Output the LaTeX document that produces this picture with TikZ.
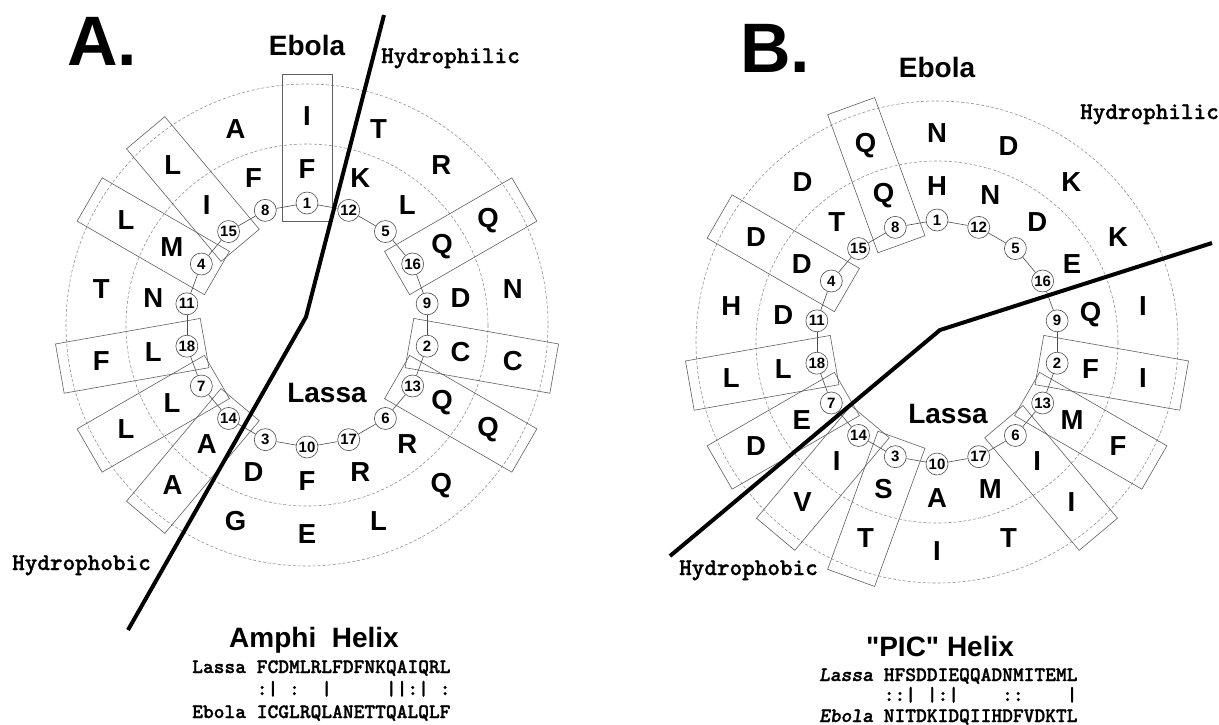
\documentclass[tikz,border=0pt]{standalone}
\usepackage{fontspec}
\setmainfont{Liberation Sans}[Ligatures=TeXOff]
\newfontfamily\monob{lmmonolt10-bold}[Extension=.otf, ItalicFont=lmmonolt10-boldoblique, FakeBold=1.2]
\usetikzlibrary{calc}
\newcommand\gapc{\hphantom{:}}
\newcommand\drawwheel[3]{%
  \draw[dashring] (0,0) circle[radius=181];
  \draw[dashring] (0,0) circle[radius=241];
  \foreach \pp in {#3} {%
    \pgfmathsetmacro\vang{90-(\pp-1)*100}%
    \pgfmathsetmacro\tang{(\pp-1)*100-90}%
    \node[resbox, rotate=\vang] (#1box\pp) at (\tang:177.5) {};
  }
  \foreach \pp/\rL/\rE in {#2} {%
    \pgfmathsetmacro\tang{(\pp-1)*100-90}%
    \node[poscirc] (#1\pp) at (\tang:122) {\pp};
    \node[res] (#1L\pp) at (\tang:156) {\rL};
    \node[res] (#1E\pp) at (\tang:209) {\rE};
  }
  \foreach \pa/\pb in {1/12,12/5,5/16,16/9,9/2,2/13,13/6,6/17,17/10,10/3,3/14,14/7,7/18,18/11,11/4,4/15,15/8,8/1}
    \draw[link] (#1\pa) -- (#1\pb);
}
\begin{document}
\begin{tikzpicture}[x=1pt,y=-1pt,
  dashring/.style={draw=gray!85, dash pattern=on 3pt off 2pt, line width=0.6pt},
  resbox/.style={draw=gray!75!black, line width=0.6pt, minimum width=147pt, minimum height=50pt, inner sep=0pt},
  poscirc/.style={circle, draw=gray!60!black, fill=white, line width=0.6pt, minimum size=22pt, inner sep=0pt, font=\bfseries\fontsize{15}{15}\selectfont},
  link/.style={draw=gray!60!black, line width=0.6pt},
  res/.style={font=\bfseries\fontsize{27.5}{27.5}\selectfont, inner sep=0pt},
  lab/.style={font=\bfseries\fontsize{28}{28}\selectfont, inner sep=0pt},
  big/.style={font=\bfseries\fontsize{70}{70}\selectfont, inner sep=0pt},
  phil/.style={font=\monob\fontsize{24}{24}\selectfont, inner sep=0pt},
  seq/.style={font=\monob\fontsize{20.5}{20.5}\selectfont, inner sep=0pt},
  divider/.style={line width=4pt, draw=black}]
\fill[white] (0,0) rectangle (1219,724);
\useasboundingbox (0,0) rectangle (1219,724);

% ---------- Panel A ----------
\begin{scope}[shift={(307,325)}]
\drawwheel{A}{1/F/I, 2/C/C, 3/D/G, 4/M/L, 5/L/R, 6/R/Q, 7/L/L, 8/F/A, 9/D/N, 10/F/E, 11/N/T, 12/K/T, 13/Q/Q, 14/A/A, 15/I/L, 16/Q/Q, 17/R/L, 18/L/F}{1,2,4,7,13,14,15,16,18}
\end{scope}
\node[big, anchor=base west] (Atitle) at (67,65) {A.};
\node[lab, anchor=base] (Aebola) at (307,55) {Ebola};
\node[lab, anchor=base] (Alassa) at (327,402) {Lassa};
\node[phil, anchor=base west] (Aphil) at (381,63) {Hydrophilic};
\node[phil, anchor=base west] (Aphob) at (12,570) {Hydrophobic};
\coordinate (Atop) at (384,15);
\coordinate (Abend) at (306,317);
\coordinate (Abot) at (128,630);
\draw[divider] (Atop) -- (Abend) -- (Abot);
\node[lab, anchor=base] (Ahelix) at (314,647) {Amphi\ \ Helix};
\node[seq, anchor=base west] (Aseq1) at (192,673) {Lassa\gapc FCDMLRLFDFNKQAIQRL};
\node[seq, anchor=base west] (Amark) at (192,695) {\hphantom{Lassa\gapc}:|\gapc:\gapc\gapc|\gapc\gapc\gapc\gapc\gapc||:|\gapc:};
\node[seq, anchor=base west] (Aseq2) at (192,718) {Ebola\gapc ICGLRQLANETTQALQLF};

% ---------- Panel B ----------
\begin{scope}[shift={(937,342)}]
\drawwheel{B}{1/H/N, 2/F/I, 3/S/T, 4/D/D, 5/D/K, 6/I/I, 7/E/D, 8/Q/Q, 9/Q/I, 10/A/I, 11/D/H, 12/N/D, 13/M/F, 14/I/V, 15/T/D, 16/E/K, 17/M/T, 18/L/L}{2,3,4,6,7,8,13,14,18}
\end{scope}
\node[big, anchor=base west] (Btitle) at (740,72) {B.};
\node[lab, anchor=base] (Bebola) at (937,77) {Ebola};
\node[lab, anchor=base] (Blassa) at (948,423) {Lassa};
\node[phil, anchor=base west] (Bphil) at (1080,119) {Hydrophilic};
\node[phil, anchor=base west] (Bphob) at (679,575) {Hydrophobic};
\coordinate (Bbot) at (670,556);
\coordinate (Bbend) at (940,330);
\coordinate (Btop) at (1212,243);
\draw[divider] (Bbot) -- (Bbend) -- (Btop);
\node[lab, anchor=base] (Bhelix) at (940,656) {"PIC" Helix};
\node[seq, anchor=base west] (Bseq1) at (819,681) {{\itshape Lassa}\gapc HFSDDIEQQADNMITEML};
\node[seq, anchor=base west] (Bmark) at (819,701) {\hphantom{Lassa\gapc}::|\gapc|:|\gapc\gapc\gapc\gapc::\gapc\gapc\gapc\gapc|};
\node[seq, anchor=base west] (Bseq2) at (819,722) {{\itshape Ebola}\gapc NITDKIDQIIHDFVDKTL};
\end{tikzpicture}
\end{document}
